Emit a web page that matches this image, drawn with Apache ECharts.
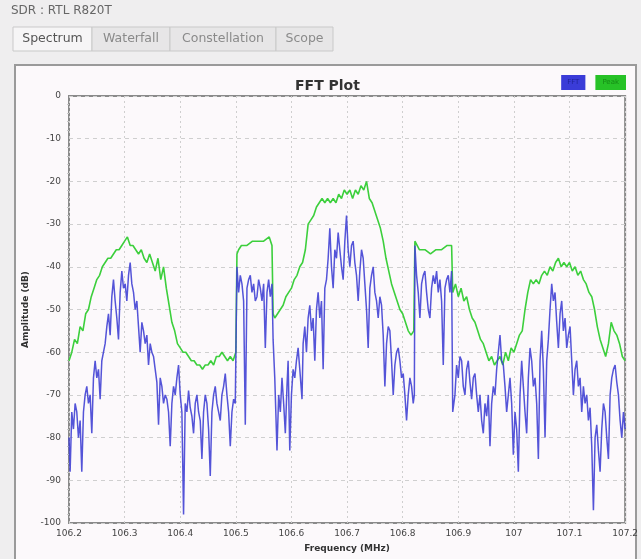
<!DOCTYPE html>
<html>
<head>
<meta charset="utf-8">
<title>FFT Plot</title>
<script src="https://cdn.jsdelivr.net/npm/echarts@6/dist/echarts.min.js"></script>
<style>
  html, body { margin: 0; padding: 0; background: #efeeef; }
  #chart { width: 641px; height: 559px; }
</style>
</head>
<body>
<div id="chart"></div>
<script>
// tabs of the SDR window
var tabNames = ['Spectrum', 'Waterfall', 'Constellation', 'Scope'];

// FFT trace (MHz, dB)
var fftFreq = [
  106.200, 106.202, 106.205, 106.208, 106.211, 106.214, 106.217, 106.220, 106.223, 106.226,
  106.229, 106.232, 106.235, 106.238, 106.241, 106.244, 106.247, 106.250, 106.253, 106.256,
  106.259, 106.262, 106.265, 106.268, 106.271, 106.274, 106.277, 106.280, 106.283, 106.286,
  106.289, 106.292, 106.295, 106.298, 106.301, 106.304, 106.307, 106.310, 106.313, 106.316,
  106.319, 106.322, 106.325, 106.328, 106.331, 106.334, 106.337, 106.340, 106.343, 106.346,
  106.349, 106.352, 106.355, 106.358, 106.361, 106.364, 106.367, 106.370, 106.373, 106.376,
  106.379, 106.382, 106.385, 106.388, 106.391, 106.394, 106.397, 106.400, 106.403, 106.406,
  106.409, 106.412, 106.415, 106.418, 106.421, 106.424, 106.427, 106.430, 106.433, 106.436,
  106.439, 106.442, 106.445, 106.448, 106.451, 106.454, 106.457, 106.460, 106.463, 106.466,
  106.469, 106.472, 106.475, 106.478, 106.481, 106.484, 106.487, 106.490, 106.493, 106.496,
  106.499, 106.502, 106.505, 106.508, 106.511, 106.514, 106.517, 106.520, 106.523, 106.526,
  106.529, 106.532, 106.535, 106.538, 106.541, 106.544, 106.547, 106.550, 106.553, 106.556,
  106.559, 106.562, 106.565, 106.567, 106.570, 106.574, 106.577, 106.580, 106.583, 106.586,
  106.589, 106.592, 106.594, 106.597, 106.600, 106.603, 106.606, 106.609, 106.612, 106.615,
  106.619, 106.621, 106.624, 106.627, 106.630, 106.633, 106.636, 106.639, 106.642, 106.645,
  106.648, 106.651, 106.654, 106.657, 106.660, 106.663, 106.666, 106.669, 106.672, 106.675,
  106.678, 106.681, 106.684, 106.687, 106.690, 106.693, 106.696, 106.699, 106.702, 106.705,
  106.708, 106.711, 106.714, 106.717, 106.720, 106.723, 106.726, 106.729, 106.732, 106.735,
  106.738, 106.741, 106.744, 106.747, 106.750, 106.753, 106.756, 106.759, 106.762, 106.765,
  106.768, 106.771, 106.774, 106.777, 106.780, 106.783, 106.786, 106.789, 106.792, 106.795,
  106.798, 106.801, 106.804, 106.807, 106.810, 106.813, 106.816, 106.819, 106.821, 106.822,
  106.825, 106.828, 106.831, 106.834, 106.837, 106.840, 106.843, 106.846, 106.849, 106.852,
  106.855, 106.858, 106.861, 106.864, 106.867, 106.870, 106.873, 106.876, 106.879, 106.882,
  106.885, 106.888, 106.890, 106.894, 106.897, 106.900, 106.903, 106.906, 106.909, 106.912,
  106.915, 106.918, 106.921, 106.924, 106.927, 106.930, 106.933, 106.936, 106.939, 106.942,
  106.945, 106.948, 106.951, 106.954, 106.957, 106.960, 106.963, 106.966, 106.969, 106.972,
  106.975, 106.978, 106.981, 106.984, 106.987, 106.990, 106.993, 106.996, 106.999, 107.002,
  107.005, 107.008, 107.011, 107.014, 107.017, 107.020, 107.023, 107.026, 107.029, 107.032,
  107.035, 107.038, 107.041, 107.044, 107.047, 107.050, 107.053, 107.056, 107.059, 107.062,
  107.065, 107.068, 107.071, 107.074, 107.077, 107.080, 107.083, 107.086, 107.089, 107.092,
  107.095, 107.098, 107.101, 107.104, 107.107, 107.110, 107.113, 107.116, 107.119, 107.122,
  107.125, 107.128, 107.131, 107.134, 107.137, 107.140, 107.143, 107.146, 107.149, 107.152,
  107.155, 107.158, 107.161, 107.164, 107.167, 107.170, 107.173, 107.176, 107.179, 107.182,
  107.185, 107.188, 107.191, 107.194, 107.197, 107.200
];
var fftDb = [
  -80, -88, -74, -78, -72, -74, -80, -76, -88, -74,
  -70, -68, -72, -70, -79, -66, -62, -66, -64, -71,
  -62, -60, -58, -54, -51, -56, -47, -43, -48, -52,
  -57, -46, -41, -45, -44, -48, -42, -39, -44, -46,
  -50, -48, -54, -60, -53, -55, -58, -56, -63, -58,
  -60, -61, -64, -67, -77, -66, -68, -72, -70, -71,
  -74, -82, -72, -68, -70, -66, -63, -70, -74, -98,
  -72, -74, -69, -73, -75, -79, -72, -70, -74, -76,
  -85, -74, -70, -72, -78, -89, -74, -70, -68, -72,
  -74, -76, -70, -68, -65, -70, -74, -82, -74, -71,
  -72, -40, -46, -42, -44, -48, -77, -45, -43, -42,
  -46, -44, -48, -47, -43, -45, -48, -44, -59, -46,
  -43, -47, -44, -57, -66, -83, -70, -74, -66, -72,
  -79, -68, -62, -83, -70, -64, -66, -62, -59, -64,
  -71, -58, -54, -60, -52, -49, -55, -52, -62, -50,
  -46, -52, -48, -64, -45, -43, -38, -31, -40, -45,
  -36, -38, -32, -36, -40, -43, -34, -28, -36, -40,
  -35, -34, -39, -42, -48, -41, -36, -38, -44, -50,
  -59, -45, -42, -40, -46, -48, -52, -47, -49, -56,
  -68, -58, -54, -55, -62, -70, -63, -60, -59, -62,
  -66, -65, -70, -76, -70, -66, -68, -72, -70, -35,
  -42, -46, -52, -44, -42, -41, -46, -50, -52, -45,
  -42, -44, -41, -46, -43, -48, -63, -45, -43, -42,
  -46, -41, -74, -70, -63, -66, -61, -62, -68, -70,
  -64, -62, -67, -71, -66, -65, -70, -74, -70, -76,
  -79, -72, -75, -70, -82, -72, -68, -70, -64, -60,
  -56, -62, -63, -68, -74, -70, -66, -72, -84, -74,
  -78, -88, -70, -62, -68, -74, -79, -66, -59, -62,
  -68, -66, -72, -85, -62, -55, -64, -80, -62, -57,
  -50, -44, -48, -46, -53, -59, -51, -48, -55, -52,
  -59, -56, -54, -62, -70, -64, -62, -68, -66, -74,
  -68, -72, -70, -76, -73, -82, -97, -80, -77, -83,
  -88, -78, -72, -74, -80, -85, -70, -66, -64, -63,
  -67, -70, -76, -80, -74, -78
];

// Peak-hold trace (MHz, dB)
var peakFreq = [
  106.200, 106.205, 106.210, 106.215, 106.220, 106.225, 106.230, 106.235, 106.240, 106.245,
  106.250, 106.255, 106.260, 106.265, 106.270, 106.275, 106.280, 106.285, 106.290, 106.295,
  106.300, 106.305, 106.310, 106.315, 106.320, 106.325, 106.330, 106.335, 106.340, 106.345,
  106.350, 106.355, 106.360, 106.365, 106.370, 106.375, 106.380, 106.385, 106.390, 106.395,
  106.400, 106.405, 106.410, 106.415, 106.420, 106.425, 106.430, 106.435, 106.440, 106.445,
  106.450, 106.455, 106.460, 106.465, 106.470, 106.475, 106.480, 106.485, 106.490, 106.495,
  106.500, 106.502, 106.505, 106.510, 106.520, 106.530, 106.540, 106.550, 106.560, 106.565,
  106.567, 106.570, 106.575, 106.580, 106.585, 106.590, 106.595, 106.600, 106.605, 106.610,
  106.615, 106.620, 106.625, 106.630, 106.635, 106.640, 106.645, 106.650, 106.655, 106.660,
  106.665, 106.670, 106.675, 106.680, 106.685, 106.690, 106.695, 106.700, 106.705, 106.710,
  106.715, 106.720, 106.725, 106.730, 106.735, 106.740, 106.745, 106.750, 106.755, 106.760,
  106.765, 106.770, 106.775, 106.780, 106.785, 106.790, 106.795, 106.800, 106.805, 106.810,
  106.815, 106.820, 106.822, 106.830, 106.840, 106.850, 106.860, 106.870, 106.880, 106.888,
  106.890, 106.895, 106.900, 106.905, 106.910, 106.915, 106.920, 106.925, 106.930, 106.935,
  106.940, 106.945, 106.950, 106.955, 106.960, 106.965, 106.970, 106.975, 106.980, 106.985,
  106.990, 106.995, 107.000, 107.005, 107.010, 107.015, 107.020, 107.025, 107.030, 107.035,
  107.040, 107.045, 107.050, 107.055, 107.060, 107.065, 107.070, 107.075, 107.080, 107.085,
  107.090, 107.095, 107.100, 107.105, 107.110, 107.115, 107.120, 107.125, 107.130, 107.135,
  107.140, 107.145, 107.150, 107.155, 107.160, 107.165, 107.170, 107.175, 107.180, 107.185,
  107.190, 107.195, 107.200
];
var peakDb = [
  -62, -60, -57, -58, -54, -55, -51, -50, -47, -45,
  -43, -42, -40, -39, -38, -38, -37, -36, -36, -35,
  -34, -33, -35, -35, -36, -37, -36, -38, -39, -37,
  -39, -41, -38, -43, -40, -45, -49, -53, -55, -58,
  -59, -60, -60, -61, -62, -62, -63, -63, -64, -63,
  -63, -62, -63, -61, -61, -60, -61, -62, -61, -62,
  -60, -37, -36, -35, -35, -34, -34, -34, -33, -35,
  -51, -52, -51, -50, -49, -47, -46, -45, -43, -42,
  -40, -39, -36, -30, -29, -28, -26, -25, -24, -25,
  -24, -25, -24, -25, -23, -24, -22, -23, -22, -24,
  -22, -23, -21, -22, -20, -24, -25, -27, -29, -31,
  -34, -38, -41, -44, -46, -48, -50, -51, -53, -55,
  -56, -55, -34, -36, -36, -37, -36, -36, -35, -35,
  -46, -44, -47, -45, -48, -47, -50, -52, -53, -55,
  -57, -58, -60, -62, -61, -63, -62, -61, -63, -60,
  -62, -59, -60, -58, -56, -55, -50, -46, -43, -44,
  -43, -44, -42, -41, -42, -40, -41, -39, -38, -40,
  -39, -40, -39, -41, -40, -42, -41, -43, -44, -46,
  -47, -50, -54, -57, -59, -61, -58, -53, -55, -56,
  -58, -61, -62
];

// y axis ticks
var yMin = -100, yMax = 0, yStep = 10;

function pairs(xs, ys) {
  var out = [];
  for (var i = 0; i < xs.length; i++) out.push([xs[i], ys[i]]);
  return out;
}

var chart = echarts.init(document.getElementById('chart'), null, { renderer: 'canvas' });

// window decoration: header text, tab strip, panel frame
var deco = [];
deco.push({ type: 'rect', silent: true, z: -10,
  shape: { x: 0, y: 0, width: 641, height: 559 }, style: { fill: '#efeeef' } });
deco.push({ type: 'text', silent: true, left: 11, top: 5,
  style: { text: 'SDR : RTL R820T', fill: '#666', font: '12px "DejaVu Sans"' } });
var tabX = [13, 92, 170, 276, 333];
for (var t = 0; t < tabNames.length; t++) {
  var active = t === 0;
  deco.push({ type: 'rect', silent: true, z: -5,
    shape: { x: tabX[t], y: 27, width: tabX[t + 1] - tabX[t], height: 24 },
    style: { fill: active ? '#f6f5f6' : '#e7e6e7', stroke: '#c9c9c9', lineWidth: 1 } });
  deco.push({ type: 'text', silent: true, z: -4,
    x: (tabX[t] + tabX[t + 1]) / 2, y: 39,
    style: { text: tabNames[t], fill: active ? '#555' : '#8a8a8a',
      font: '12.5px "DejaVu Sans"', align: 'center', verticalAlign: 'middle' } });
}
deco.push({ type: 'rect', silent: true, z: -6,
  shape: { x: 15, y: 65, width: 621, height: 500 },
  style: { fill: '#fcf9fb', stroke: '#9a9a9a', lineWidth: 2 } });

var option = {
  animation: false,
  backgroundColor: 'transparent',
  textStyle: { fontFamily: 'DejaVu Sans' },
  graphic: deco,
  title: {
    text: 'FFT Plot',
    left: 290, top: 74,
    textStyle: { fontSize: 14, fontWeight: 'bold', color: '#333' }
  },
  legend: {
    right: 15, top: 75, padding: 0,
    itemGap: 5,
    itemWidth: 0, itemHeight: 0,
    icon: 'rect',
    data: [
      { name: 'FFT', textStyle: { backgroundColor: '#3a3cd8', color: '#20249a',
        padding: [4, 6], fontSize: 7 } },
      { name: 'Peak', textStyle: { backgroundColor: '#27c227', color: '#158a15',
        padding: [4, 7], fontSize: 7 } }
    ]
  },
  grid: {
    left: 69, right: 15, top: 96, bottom: 36,
    show: true, backgroundColor: '#fcf9fb',
    borderColor: '#8a8a8a', borderWidth: 2
  },
  xAxis: {
    type: 'value',
    min: 106.2, max: 107.2, interval: 0.1,
    name: 'Frequency (MHz)', nameLocation: 'middle', nameGap: 21,
    nameTextStyle: { fontSize: 9, fontWeight: 'bold', color: '#333' },
    axisLine: { show: false },
    axisTick: { show: false },
    axisLabel: { fontSize: 9, color: '#444', margin: 6,
      formatter: function (v) { return String(parseFloat(v.toFixed(1))); } },
    splitLine: { show: true, lineStyle: { color: '#cfcfcf', type: [2, 3], width: 1 } }
  },
  yAxis: {
    type: 'value',
    min: yMin, max: yMax, interval: yStep,
    name: 'Amplitude (dB)', nameLocation: 'middle', nameGap: 34,
    nameTextStyle: { fontSize: 9, fontWeight: 'bold', color: '#333' },
    axisLine: { show: false },
    axisTick: { show: false },
    minorTick: { show: true, splitNumber: 5, length: 2, lineStyle: { color: '#c8c8c8' } },
    axisLabel: { fontSize: 9, color: '#444', margin: 8 },
    splitLine: { show: true, lineStyle: { color: '#cfcfcf', type: [4, 4], width: 1 } }
  },
  series: [
    {
      name: 'FFT', type: 'line', showSymbol: false, symbol: 'none',
      data: pairs(fftFreq, fftDb),
      lineStyle: { color: '#4141d4', width: 1.5, opacity: 0.9 },
      itemStyle: { color: '#3a3cd8' },
      z: 3
    },
    {
      name: 'Peak', type: 'line', showSymbol: false, symbol: 'none',
      data: pairs(peakFreq, peakDb),
      lineStyle: { color: '#3ccf3c', width: 1.6 },
      itemStyle: { color: '#27c227' },
      z: 2
    }
  ]
};

chart.setOption(option);
</script>
</body>
</html>
